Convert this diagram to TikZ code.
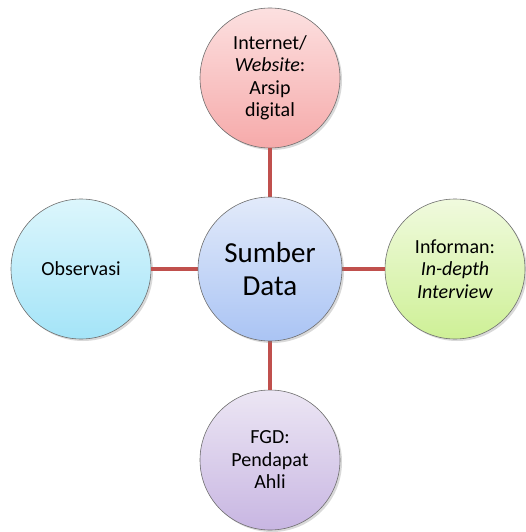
\documentclass[tikz,border=0pt]{standalone}
\usepackage{fontspec}
\setmainfont{Carlito}
\usetikzlibrary{shadows}

\definecolor{linkred}{RGB}{192,80,77}
\definecolor{rimgray}{RGB}{110,110,110}

\tikzset{
  bubble/.style={circle, draw=rimgray, line width=0.6pt, minimum size=140pt, inner sep=0pt,
    align=center, font=\fontsize{20}{22.5}\selectfont,
    drop shadow={opacity=0.3, shadow xshift=2pt, shadow yshift=-2pt}},
  link/.style={draw=linkred, line width=4.5pt}
}

\begin{document}
\begin{tikzpicture}[x=1pt,y=-1pt]
\useasboundingbox (0,0) rectangle (526,532);
\coordinate (mid) at (270,269);
% The outer bubbles
\node (internet) at (270,78) [bubble, top color={rgb,255:red,252;green,224;blue,224}, bottom color={rgb,255:red,246;green,170;blue,170}]
  {Internet/\\\textit{Website}:\\Arsip\\digital};
\node (informan) at (455,269) [bubble, top color={rgb,255:red,240;green,250;blue,222}, bottom color={rgb,255:red,206;green,240;blue,150}]
  {Informan:\\\textit{In-depth}\\\textit{Interview}};
\node (fgd) at (270,460) [bubble, top color={rgb,255:red,236;green,230;blue,244}, bottom color={rgb,255:red,200;green,182;blue,226}]
  {FGD:\\Pendapat\\Ahli};
\node (observasi) at (81,269) [bubble, top color={rgb,255:red,220;green,246;blue,252}, bottom color={rgb,255:red,164;green,228;blue,248}]
  {Observasi};
% The links
\draw [link] (mid) -- (internet);
\draw [link] (mid) -- (informan);
\draw [link] (mid) -- (fgd);
\draw [link] (mid) -- (observasi);
% Centre
\node (sumber) at (mid) [bubble, minimum size=144pt, font=\fontsize{29}{33}\selectfont,
  top color={rgb,255:red,226;green,234;blue,250}, bottom color={rgb,255:red,170;green,196;blue,244}]
  {Sumber\\Data};
\end{tikzpicture}
\end{document}
